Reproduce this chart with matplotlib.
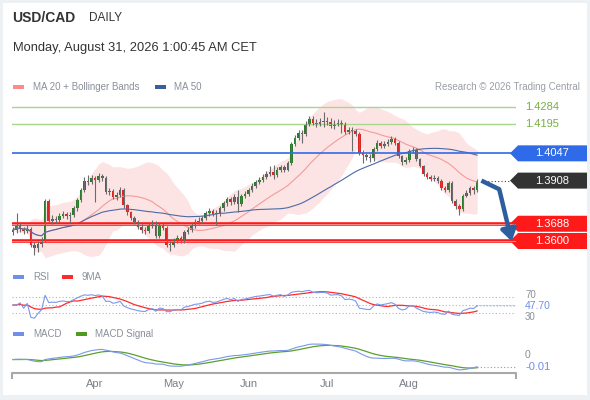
import numpy as np
import pandas as pd
import matplotlib
matplotlib.use("Agg")
import matplotlib.pyplot as plt
from matplotlib.patches import Rectangle, Polygon

plt.rcParams['font.family'] = ['Liberation Sans', 'DejaVu Sans']

# daily USD/CAD candles
opens = [
    1.3646, 1.3656, 1.3676, 1.3661, 1.3651, 1.3661, 1.3580, 1.3564, 1.3585, 1.3605,
    1.3804, 1.3702, 1.3712, 1.3707, 1.3728, 1.3738, 1.3728, 1.3733, 1.3768, 1.3809,
    1.3860, 1.3906, 1.3901, 1.3921, 1.3911, 1.3932, 1.3921, 1.3850, 1.3855, 1.3824,
    1.3835, 1.3860, 1.3784, 1.3748, 1.3717, 1.3697, 1.3671, 1.3656, 1.3651, 1.3676,
    1.3692, 1.3626, 1.3676, 1.3666, 1.3580, 1.3580, 1.3605, 1.3615, 1.3600, 1.3646,
    1.3656, 1.3676, 1.3697, 1.3702, 1.3717, 1.3743, 1.3753, 1.3738, 1.3743, 1.3768,
    1.3794, 1.3814, 1.3799, 1.3824, 1.3789, 1.3830, 1.3840, 1.3860, 1.3881, 1.3901,
    1.3911, 1.3926, 1.3942, 1.3952, 1.3937, 1.3962, 1.3977, 1.3962, 1.3998, 1.4095,
    1.4125, 1.4151, 1.4146, 1.4197, 1.4222, 1.4202, 1.4197, 1.4207, 1.4212, 1.4207,
    1.4187, 1.4197, 1.4202, 1.4192, 1.4156, 1.4166, 1.4161, 1.4146, 1.4049, 1.4039,
    1.4028, 1.4023, 1.4069, 1.4100, 1.4085, 1.4095, 1.4105, 1.4120, 1.4100, 1.4034,
    1.4003, 1.4013, 1.4059, 1.4064, 1.4018, 1.3983, 1.3942, 1.3926, 1.3916, 1.3921,
    1.3906, 1.3870, 1.3860, 1.3896, 1.3804, 1.3779, 1.3763, 1.3830, 1.3845, 1.3870,
    1.3860]
highs = [
    1.3672, 1.3743, 1.3690, 1.3672, 1.3680, 1.3672, 1.3595, 1.3600, 1.3620, 1.3812,
    1.3815, 1.3735, 1.3730, 1.3745, 1.3755, 1.3750, 1.3750, 1.3780, 1.3820, 1.3872,
    1.3925, 1.3935, 1.3935, 1.3932, 1.3945, 1.3942, 1.3930, 1.3870, 1.3865, 1.3850,
    1.3875, 1.3870, 1.3790, 1.3755, 1.3725, 1.3705, 1.3685, 1.3670, 1.3690, 1.3705,
    1.3700, 1.3690, 1.3690, 1.3675, 1.3600, 1.3615, 1.3630, 1.3625, 1.3655, 1.3670,
    1.3690, 1.3710, 1.3720, 1.3730, 1.3755, 1.3768, 1.3765, 1.3758, 1.3780, 1.3805,
    1.3825, 1.3822, 1.3838, 1.3860, 1.3840, 1.3855, 1.3872, 1.3895, 1.3912, 1.3925,
    1.3940, 1.3955, 1.3985, 1.3988, 1.3975, 1.3990, 1.3990, 1.4010, 1.4105, 1.4140,
    1.4165, 1.4165, 1.4210, 1.4240, 1.4235, 1.4220, 1.4225, 1.4258, 1.4230, 1.4225,
    1.4215, 1.4220, 1.4215, 1.4205, 1.4180, 1.4180, 1.4170, 1.4155, 1.4065, 1.4050,
    1.4045, 1.4080, 1.4115, 1.4112, 1.4110, 1.4120, 1.4135, 1.4130, 1.4110, 1.4040,
    1.4030, 1.4070, 1.4078, 1.4072, 1.4025, 1.3990, 1.3950, 1.3935, 1.3935, 1.3930,
    1.3915, 1.3880, 1.3905, 1.3905, 1.3812, 1.3790, 1.3840, 1.3858, 1.3882, 1.3880,
    1.3915]
lows = [
    1.3630, 1.3640, 1.3648, 1.3636, 1.3640, 1.3570, 1.3529, 1.3545, 1.3570, 1.3595,
    1.3690, 1.3685, 1.3690, 1.3695, 1.3715, 1.3712, 1.3690, 1.3720, 1.3755, 1.3800,
    1.3850, 1.3885, 1.3890, 1.3799, 1.3900, 1.3905, 1.3840, 1.3835, 1.3812, 1.3810,
    1.3825, 1.3770, 1.3735, 1.3705, 1.3685, 1.3660, 1.3640, 1.3635, 1.3640, 1.3665,
    1.3615, 1.3615, 1.3655, 1.3570, 1.3549, 1.3570, 1.3590, 1.3590, 1.3590, 1.3635,
    1.3645, 1.3665, 1.3685, 1.3690, 1.3705, 1.3730, 1.3725, 1.3682, 1.3730, 1.3755,
    1.3780, 1.3785, 1.3790, 1.3748, 1.3780, 1.3820, 1.3830, 1.3850, 1.3870, 1.3890,
    1.3900, 1.3915, 1.3930, 1.3915, 1.3925, 1.3950, 1.3950, 1.3955, 1.3990, 1.4085,
    1.4115, 1.4100, 1.4135, 1.4185, 1.4190, 1.4180, 1.4185, 1.4180, 1.4190, 1.4175,
    1.4170, 1.4185, 1.4150, 1.4145, 1.4145, 1.4059, 1.4135, 1.4040, 1.3998, 1.4015,
    1.4005, 1.4010, 1.4060, 1.4075, 1.4075, 1.4085, 1.4095, 1.4090, 1.4025, 1.3990,
    1.3995, 1.4005, 1.4050, 1.4008, 1.3975, 1.3932, 1.3915, 1.3905, 1.3905, 1.3895,
    1.3860, 1.3848, 1.3850, 1.3795, 1.3765, 1.3733, 1.3755, 1.3822, 1.3835, 1.3840,
    1.3850]
closes = [
    1.3656, 1.3676, 1.3661, 1.3651, 1.3661, 1.3580, 1.3564, 1.3585, 1.3605, 1.3804,
    1.3702, 1.3712, 1.3707, 1.3728, 1.3738, 1.3728, 1.3733, 1.3768, 1.3809, 1.3860,
    1.3906, 1.3901, 1.3921, 1.3911, 1.3932, 1.3921, 1.3850, 1.3855, 1.3824, 1.3835,
    1.3860, 1.3784, 1.3748, 1.3717, 1.3697, 1.3671, 1.3656, 1.3651, 1.3676, 1.3692,
    1.3626, 1.3676, 1.3666, 1.3580, 1.3580, 1.3605, 1.3615, 1.3600, 1.3646, 1.3656,
    1.3676, 1.3697, 1.3702, 1.3717, 1.3743, 1.3753, 1.3738, 1.3743, 1.3768, 1.3794,
    1.3814, 1.3799, 1.3824, 1.3789, 1.3830, 1.3840, 1.3860, 1.3881, 1.3901, 1.3911,
    1.3926, 1.3942, 1.3952, 1.3937, 1.3962, 1.3977, 1.3962, 1.3998, 1.4095, 1.4125,
    1.4151, 1.4146, 1.4197, 1.4222, 1.4202, 1.4197, 1.4207, 1.4212, 1.4207, 1.4187,
    1.4197, 1.4202, 1.4192, 1.4156, 1.4166, 1.4161, 1.4146, 1.4049, 1.4039, 1.4028,
    1.4023, 1.4069, 1.4100, 1.4085, 1.4095, 1.4105, 1.4120, 1.4100, 1.4034, 1.4003,
    1.4013, 1.4059, 1.4064, 1.4018, 1.3983, 1.3942, 1.3926, 1.3916, 1.3921, 1.3906,
    1.3870, 1.3860, 1.3896, 1.3804, 1.3779, 1.3763, 1.3830, 1.3845, 1.3870, 1.3860,
    1.3908]

dates = pd.bdate_range(end="2026-08-28", periods=len(closes))
month_labels = ["Apr", "May", "Jun", "Jul", "Aug"]

resistances = [1.4284, 1.4195]
pivot = 1.4047
supports = [1.3688, 1.3600]
rsi_levels = [70, 50, 30]
rsi_label = "47.70"
rsi_label_value = 47.70
macd_label = "-0.01"

# indicators
s = pd.Series(closes)
ma20 = s.rolling(20, min_periods=1).mean()
sd20 = s.rolling(20, min_periods=1).std(ddof=0)
bb_up = ma20 + 2 * sd20
bb_dn = ma20 - 2 * sd20
ma50 = s.rolling(50, min_periods=1).mean()

delta = s.diff().fillna(0)
up = delta.clip(lower=0).ewm(com=13, adjust=True).mean()
dn = (-delta.clip(upper=0)).ewm(com=13, adjust=True).mean()
rsi = 100 - 100 / (1 + up / dn.replace(0, np.nan))
rsi = rsi.fillna(50)
rsi_ma = rsi.rolling(9, min_periods=1).mean()

macd = s.ewm(span=12, adjust=False).mean() - s.ewm(span=26, adjust=False).mean()
signal = macd.ewm(span=9, adjust=False).mean()

W, H = 590, 400
fig = plt.figure(figsize=(W / 100, H / 100), dpi=100)
fig.patch.set_facecolor('#eef1f4')


def rect(left, top, right, bottom):
    return [left / W, 1 - bottom / H, (right - left) / W, (bottom - top) / H]


ov = fig.add_axes([0, 0, 1, 1], zorder=0)
ov.set_xlim(0, W)
ov.set_ylim(H, 0)
ov.axis('off')
ov.add_patch(Rectangle((3, 3), 584, 392, facecolor='white', edgecolor='none'))

# header
ov.text(12, 18, "USD/CAD", fontsize=10, fontweight='bold', color='#333333', va='center')
ov.text(89, 18, "DAILY", fontsize=8.5, color='#333333', va='center')
ov.text(13, 48, "Monday, August 31, 2026 1:00:45 AM CET", fontsize=9.3, color='#333333', va='center')

# legends
leg_col = '#8a8f99'
ov.add_patch(Rectangle((13, 84.5), 11, 4, facecolor='#ff8a8a', edgecolor='none'))
ov.text(33, 86.5, "MA 20 + Bollinger Bands", fontsize=7, color=leg_col, va='center')
ov.add_patch(Rectangle((155, 84.5), 11, 4, facecolor='#3b5f9c', edgecolor='none'))
ov.text(174, 86.5, "MA 50", fontsize=7, color=leg_col, va='center')
ov.text(580, 86.5, "Research \u00a9 2026 Trading Central", fontsize=7, color='#9a9ea6',
        va='center', ha='right')
ov.add_patch(Rectangle((13, 275), 11, 4, facecolor='#6f8fe8', edgecolor='none'))
ov.text(33, 277, "RSI", fontsize=7, color=leg_col, va='center')
ov.add_patch(Rectangle((62, 275), 11, 4, facecolor='#ff2a2a', edgecolor='none'))
ov.text(82, 277, "9MA", fontsize=7, color=leg_col, va='center')
ov.add_patch(Rectangle((13, 332), 11, 4, facecolor='#6f8fe8', edgecolor='none'))
ov.text(33, 334, "MACD", fontsize=7, color=leg_col, va='center')
ov.add_patch(Rectangle((76, 332), 11, 4, facecolor='#4f9a1f', edgecolor='none'))
ov.text(95, 334, "MACD Signal", fontsize=7, color=leg_col, va='center')

# shared x scale: candle i sits at pixel 13 + 3.57 i
step = 3.57
xlim = ((12 - 13) / step, (516 - 13) / step)
x = np.arange(len(closes))
lab_x = (525 - 13) / step
tag_l, tag_b, tag_r = (510 - 13) / step, (518 - 13) / step, (587 - 13) / step
tag_mid = (552 - 13) / step

# price panel
ax = fig.add_axes(rect(12, 95, 516, 262), zorder=1)
ax.set_facecolor('none')
ax.set_xlim(*xlim)
ax.set_ylim(1.3600 - 21 * 0.00051, 1.3600 + 146 * 0.00051)
ax.axis('off')
px = 0.00051  # price per pixel

ax.fill_between(x, bb_dn, bb_up, color='#fde4e4', lw=0)
ax.plot(x, ma20, color='#f59a9a', lw=0.8)
ax.plot(x, ma50, color='#4a6aa8', lw=0.8)

for lvl in resistances:
    ax.axhline(lvl, color='#a8d58c', lw=1)
    ax.text(lab_x, lvl, f"{lvl:.4f}", fontsize=8, color='#76b041', va='center', clip_on=False)
ax.axhline(pivot, color='#2f6be8', lw=1.2)
for lvl in supports:
    ax.axhline(lvl, color='#ff1a1a', lw=2.6)
    ax.axhline(lvl, color='#ff9a9a', lw=0.6)


def tag(level, color, text):
    h = 8 * px
    ax.add_patch(Polygon([(tag_l, level), (tag_b, level + h), (tag_r, level + h),
                          (tag_r, level - h), (tag_b, level - h)],
                         closed=True, facecolor=color, edgecolor='none', clip_on=False))
    ax.text(tag_mid, level, text, fontsize=8, color='white', va='center', ha='center',
            clip_on=False)


tag(pivot, '#2f6be8', f"{pivot:.4f}")
for lvl in supports:
    tag(lvl, '#ff1a1a', f"{lvl:.4f}")
tag(closes[-1], '#333333', f"{closes[-1]:.4f}")
ax.plot([x[-1] + 1, tag_l], [closes[-1]] * 2, color='#444444', lw=0.8, ls=(0, (1, 2)),
        clip_on=False)

# candles
o = np.array(opens)
c = np.array(closes)
col = np.where(c >= o, '#2a7d2a', '#e02424')
ax.vlines(x, lows, highs, color='#6b6b6b', lw=0.8)
body = np.maximum(np.abs(c - o), 0.0003)
ax.bar(x, body, bottom=np.minimum(o, c), width=0.72, color=col, lw=0)

# forecast arrow
arr = '#2d5f9e'
p0 = (x[-1] + 1.2, closes[-1])
p1 = (x[-1] + 6.2, closes[-1] - 0.0044)
p2 = (x[-1] + 9.7, supports[1] - 0.0002)
ax.plot([p0[0], p1[0]], [p0[1], p1[1]], color=arr, lw=3.2, solid_capstyle='butt',
        clip_on=False)
ax.annotate('', xy=p2, xytext=p1,
            arrowprops=dict(arrowstyle='-|>,head_length=0.7,head_width=0.45', lw=3.2,
                            color=arr, shrinkA=0, shrinkB=0))

# RSI panel
ar = fig.add_axes(rect(12, 283, 516, 325), zorder=1)
ar.set_facecolor('none')
ar.set_xlim(*xlim)
ar.set_ylim(0, 105)
ar.axis('off')
for lvl in rsi_levels:
    ar.axhline(lvl, color='#b5b5b5', lw=0.8, ls=(0, (1, 2)))
ar.plot(x, rsi_ma, color='#ff2a2a', lw=0.9)
ar.plot(x, rsi, color='#7b98ea', lw=0.8)
ar.plot([x[-1], xlim[1]], [rsi.iloc[-1], rsi_label_value], color='#7b98ea', lw=0.8,
        ls=(0, (1, 2)), clip_on=False)
ar.text(lab_x, 74, "70", fontsize=7, color='#8a8f99', va='center', clip_on=False)
ar.text(lab_x, 21, "30", fontsize=7, color='#8a8f99', va='center', clip_on=False)
ar.text(lab_x, rsi_label_value, rsi_label, fontsize=7.5, color='#6f8fe8', va='center',
        clip_on=False)

# MACD panel
am = fig.add_axes(rect(12, 342, 516, 372), zorder=1)
am.set_facecolor('none')
am.set_xlim(*xlim)
lo = min(macd.min(), signal.min())
hi = max(macd.max(), signal.max())
pad = (hi - lo) * 0.08
am.set_ylim(lo - pad, hi + pad)
am.axis('off')
am.plot(x, signal, color='#5aa02c', lw=0.9)
am.plot(x, macd, color='#7b98ea', lw=0.8)
am.plot([x[-1], xlim[1]], [macd.iloc[-1]] * 2, color='#7b98ea', lw=0.8, ls=(0, (1, 2)),
        clip_on=False)
am.annotate("0", xy=(lab_x, 0), xytext=(0, 3), textcoords='offset points', fontsize=7.5,
            color='#8a8f99', va='center', annotation_clip=False)
am.text(lab_x, macd.iloc[-1], macd_label, fontsize=8, color='#6f8fe8', va='center',
        clip_on=False, bbox=dict(facecolor='white', edgecolor='none', pad=0))

# date axis
ad = fig.add_axes(rect(12, 373, 516, 390), zorder=1)
ad.set_facecolor('none')
ad.set_xlim(*xlim)
ad.set_ylim(1, 0)
ad.axis('off')
ad.plot([xlim[0], xlim[0], xlim[1], xlim[1]], [0.3, 0, 0, 0.3], color='#a8a8a8', lw=1.5,
        clip_on=False)
month_first = pd.Series(x, index=dates).groupby(dates.strftime('%b')).first()
for name in month_labels:
    ad.text(month_first[name], 0.62, name, fontsize=8, color='#7a7f88', ha='center',
            va='center')

fig.savefig("out.png", dpi=100, facecolor=fig.get_facecolor())
